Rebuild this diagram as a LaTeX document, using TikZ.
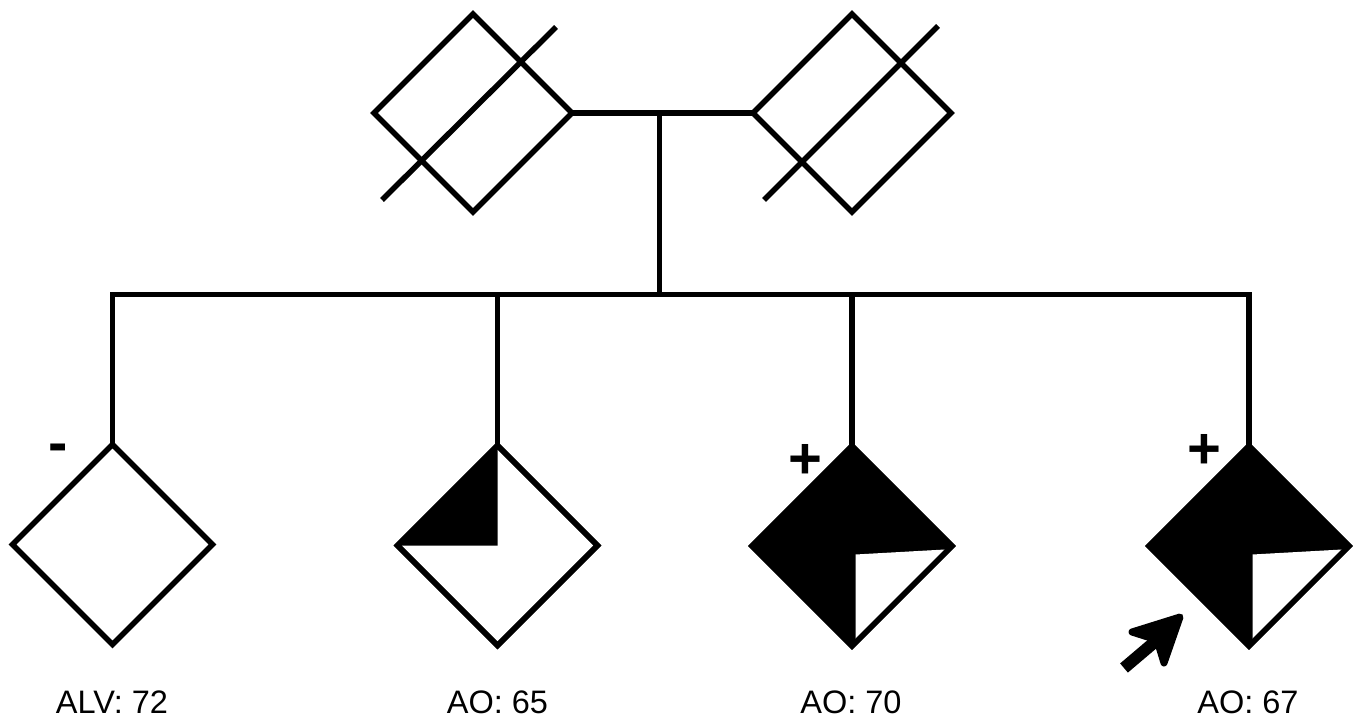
\documentclass[tikz,border=0pt]{standalone}
\usepackage{fontspec}
\setmainfont{Liberation Sans}
\usetikzlibrary{shapes.geometric,calc}
\tikzset{
  person/.style={diamond, aspect=1, draw, line width=5.5pt,
    minimum width=#1, minimum height=#1, inner sep=0pt, outer sep=0pt},
  person/.default=200pt,
  link/.style={line width=5.5pt},
  strike/.style={line width=5.5pt},
  agelabel/.style={anchor=base, inner sep=0pt, font=\fontsize{32.5}{38}\selectfont},
  status/.style={anchor=base, inner sep=0pt, font=\bfseries\fontsize{58}{60}\selectfont},
}
\begin{document}
\begin{tikzpicture}[x=1pt,y=-1pt]
\useasboundingbox (0,0) rectangle (1358,719);

% parents (deceased)
\node[person=198pt] (p1) at (473,113) {};
\node[person=198pt] (p2) at (852,113) {};
\draw[strike] ($(p1.center)+(-91,87)$) -- ($(p1.center)+(83,-86)$);
\draw[strike] ($(p2.center)+(-88,87)$) -- ($(p2.center)+(86,-87)$);

% siblings
\node[person] (c1) at (112.5,544.5) {};
\node[person] (c2) at (497.5,545.5) {};
\node[person, fill=black] (c3) at (852,546) {};
\node[person, fill=black] (c4) at (1249,546) {};

% shading of affected quadrants
\fill (c2.north) -- (c2.west) -- (c2.center) -- cycle;
\draw[link] (c2.north) -- (c2.east) -- (c2.south) -- (c2.west) -- cycle;
\foreach \c in {c3,c4}{
  \fill[white] ($(\c.center)+(3.5,8.5)$) -- ($(\c.center)+(93,3.5)$) -- ($(\c.center)+(3.5,93)$) -- cycle;
  \draw[link] (\c.north) -- (\c.east) -- (\c.south) -- (\c.west) -- cycle;
}

% mating and sibship lines
\coordinate (mate) at (659.5,113);
\coordinate (sib) at (659.5,294.5);
\draw[link] (p1.east) -- (p2.west);
\draw[link] (mate) -- (sib);
\draw[link] (c1.north) -- (c1.north |- sib) -- (c4.north |- sib) -- (c4.north);
\draw[link] (c2.north |- sib) -- (c2.north);
\draw[link] (c3.north |- sib) -- (c3.north);

% proband arrow
\coordinate (tail) at (1124,668);
\coordinate (notch) at (1157,640);
\coordinate (tip) at (1180,617);
\coordinate (barbl) at (1132,632);
\coordinate (barbr) at (1164,663);
\draw[line width=12pt] (tail) -- (notch);
\filldraw[line width=7pt, line join=round] (tip) -- (barbl) -- (notch) -- (barbr) -- cycle;

% test results
\node[status] (s1) at (58,462) {-};
\node[status] (s3) at (805,478) {+};
\node[status] (s4) at (1204,468) {+};

% ages
\node[agelabel] (a1) at (112,713) {ALV: 72};
\node[agelabel] (a2) at (497.5,713) {AO: 65};
\node[agelabel] (a3) at (851,713) {AO: 70};
\node[agelabel] (a4) at (1248,713) {AO: 67};
\end{tikzpicture}
\end{document}
